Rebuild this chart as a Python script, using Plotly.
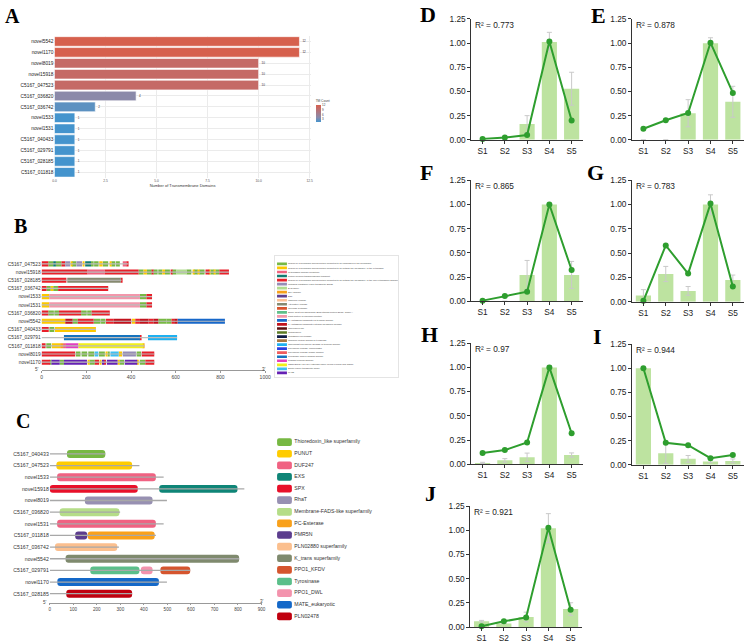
import plotly.graph_objects as go

W, H = 752, 643
FONT = "Liberation Sans, Arial, sans-serif"
SERIF = "Liberation Serif, Times New Roman, serif"

def fx(px): return px / W
def fy(py): return 1 - py / H
def xd(a, b): return [fx(a), fx(b)]
def yd(top, bottom): return [fy(bottom), fy(top)]

# ---------------- Panel A data ----------------
a_genes = ["novel5542", "novel1170", "novel8019", "novel15918", "C5167_047523", "C5167_036820",
           "C5167_036742", "novel1533", "novel1531", "C5167_040433", "C5167_029791",
           "C5167_028185", "C5167_011818"]
a_tm = [12, 12, 10, 10, 10, 4, 2, 1, 1, 1, 1, 1, 1]
a_ticks = [0, 2.5, 5, 7.5, 10, 12.5]
a_ticktext = ["0.0", "2.5", "5.0", "7.5", "10.0", "12.5"]
a_scale = [[0, "#4494cd"], [0.27, "#8b8aa9"], [0.82, "#c56a66"], [1, "#d6604d"]]

# ---------------- Panel B data ----------------
b_genes = ["C5167_047523", "novel15918", "C5167_028185", "C5167_036742", "novel1533", "novel1531",
           "C5167_036820", "novel5542", "C5167_040433", "C5167_029791", "C5167_011818",
           "novel8019", "novel1170"]
b_len = [389, 838, 358, 298, 494, 494, 305, 820, 243, 606, 460, 504, 504]
b_motif_names = [
    "Region of a membrane-bound protein predicted to be embedded in the membrane.",
    "Region of a membrane-bound protein predicted to be outside the membrane, in the cytoplasm.",
    "Cytoplasmic domain prediction",
    "Proton-coupled transmembrane transport",
    "Region of a membrane-bound protein predicted to be outside the membrane, in the non-cytoplasmic domain.",
    "Multidrug resistance efflux transporter EmrE",
    "EXS family",
    "SPX domain",
    "SCF",
    "Ubiquinol oxidase",
    "Alternative oxidase",
    "Cellulose synthase",
    "Spore Coat Polysaccharide Biosynthesis Protein SpsC, Chain A",
    "Plant protein of unknown function",
    "K+ potassium transporter N-terminal domain",
    "K+ potassium transporter integral membrane domain",
    "Thioredoxin-like",
    "Glutaredoxin",
    "Glutathione peroxidase",
    "Common central domain of tyrosinase",
    "Chloroplast Polyphenol Oxidase N-terminal domain",
    "Polyphenol oxidase, chloroplastic",
    "Polyphenol oxidase middle domain",
    "Tyrosinase copper-binding domain",
    "PMR5N terminal Domain",
    "GDSL/SGNH-like acyl-esterase family found in Pmr5 and Cas1p",
    "Solute carrier transporter family",
    "MATE",
]
b_motif_colors = ["#77b843", "#fcc800", "#f0637e", "#127c72", "#e8202a", "#968db6", "#b1dc8e",
                  "#f7a11a", "#5f3f8f", "#fcbf93", "#868a70", "#d8532b", "#5fbf8a", "#f297ab",
                  "#1767c9", "#c1121c", "#5a0e0e", "#5b7a23", "#0e1a45", "#a8753f", "#1eb0f0",
                  "#2b3ee0", "#ef5b5b", "#1673bd", "#e23fbf", "#f2ef1a", "#3ec0f2", "#6420b3"]

# motif segments per gene: (start, end, motif number)
seg_C5167_047523 = [(0, 30, 5), (30, 52, 1), (52, 64, 4), (64, 89, 1), (89, 106, 5), (106, 128, 6),
                    (130, 136, 2), (136, 155, 1), (156, 181, 6), (184, 190, 2), (195, 221, 4),
                    (221, 233, 1), (235, 255, 1), (258, 273, 2), (274, 298, 1), (307, 312, 2),
                    (312, 330, 1), (333, 350, 1), (363, 381, 3), (381, 389, 5)]
seg_novel15918 = [(0, 205, 5), (205, 282, 3), (282, 434, 5), (434, 456, 1), (456, 471, 2),
                  (471, 493, 1), (493, 500, 5), (500, 519, 1), (522, 540, 1), (540, 552, 2),
                  (552, 574, 1), (578, 584, 5), (584, 603, 1), (603, 648, 7), (648, 670, 1),
                  (677, 681, 2), (681, 699, 1), (699, 705, 2), (705, 729, 1), (733, 751, 5),
                  (751, 755, 2), (755, 773, 1), (773, 777, 2), (777, 795, 1), (795, 838, 5)]
seg_C5167_028185 = [(0, 111, 5), (115, 354, 11), (354, 358, 5)]
seg_C5167_036742 = [(0, 22, 5), (22, 41, 1), (41, 52, 2), (52, 74, 1), (74, 298, 5)]
seg_novel1533 = [(0, 34, 2), (34, 440, 14), (440, 469, 1), (469, 494, 5)]
seg_novel1531 = [(0, 34, 2), (34, 440, 14), (440, 469, 1), (469, 494, 5)]
seg_C5167_036820 = [(0, 30, 5), (30, 55, 1), (57, 78, 1), (78, 177, 5), (177, 202, 1),
                    (204, 224, 1), (224, 305, 5)]
seg_novel5542 = [(0, 106, 2), (106, 139, 16), (139, 162, 1), (162, 233, 5), (233, 264, 1),
                 (266, 286, 1), (288, 323, 5), (323, 401, 16), (404, 419, 2), (419, 440, 5),
                 (440, 478, 16), (478, 500, 5), (500, 522, 16), (522, 559, 1), (559, 581, 1),
                 (581, 593, 5), (593, 608, 16), (608, 820, 15)]
seg_C5167_040433 = [(0, 32, 5), (35, 57, 1), (60, 243, 2)]
seg_C5167_029791 = [(100, 440, 24), (440, 445, 5), (476, 606, 21)]
seg_C5167_011818 = [(0, 18, 5), (21, 43, 1), (46, 83, 2), (83, 96, 8), (96, 109, 3),
                    (109, 165, 25), (165, 456, 26), (456, 460, 8)]
seg_novel8019 = [(0, 150, 5), (153, 174, 1), (179, 204, 1), (209, 235, 1), (237, 254, 27),
                 (257, 283, 1), (286, 295, 2), (298, 305, 1), (308, 345, 27), (345, 360, 2),
                 (363, 422, 6), (425, 445, 1), (448, 504, 5)]
seg_novel1170 = [(0, 38, 5), (38, 44, 1), (44, 81, 28), (81, 100, 1), (100, 203, 28),
                 (206, 212, 2), (214, 238, 1), (238, 257, 5), (262, 268, 2), (270, 280, 28),
                 (280, 288, 5), (292, 340, 28), (342, 348, 2), (348, 369, 1), (372, 428, 28),
                 (428, 435, 2), (439, 464, 1), (464, 504, 5)]
b_segments = [seg_C5167_047523, seg_novel15918, seg_C5167_028185, seg_C5167_036742, seg_novel1533,
              seg_novel1531, seg_C5167_036820, seg_novel5542, seg_C5167_040433, seg_C5167_029791,
              seg_C5167_011818, seg_novel8019, seg_novel1170]

# ---------------- Panel C data ----------------
c_genes = ["C5167_040433", "C5167_047523", "novel1533", "novel15918", "novel8019", "C5167_036820",
           "novel1531", "C5167_011818", "C5167_036742", "novel5542", "C5167_029791", "novel1170",
           "C5167_028185"]
c_len = [236, 381, 484, 827, 498, 299, 484, 451, 294, 805, 597, 498, 350]
c_dom_names = ["Thioredoxin_like superfamily", "PUNUT", "DUF247", "EXS", "SPX", "RhaT",
               "Membrane-FADS-like superfamily", "PC-Esterase", "PMR5N", "PLN02880 superfamily",
               "K_trans superfamily", "PPO1_KFDV", "Tyrosinase", "PPO1_DWL", "MATE_eukaryotic",
               "PLN02478"]
c_dom_colors = ["#77b843", "#ffcc00", "#f06282", "#0f8577", "#e8102a", "#9790b2", "#b5dd88",
                "#f9a11b", "#5c3d8e", "#fbbf8e", "#7f8a6e", "#d5552e", "#5bbf8a", "#f393ad",
                "#1468c8", "#c0000f"]
c_dom_gene = ["C5167_040433", "C5167_047523", "novel1533", "novel15918", "novel15918", "novel8019",
              "C5167_036820", "novel1531", "C5167_011818", "C5167_011818", "C5167_036742",
              "novel5542", "C5167_029791", "C5167_029791", "C5167_029791", "novel1170",
              "C5167_028185"]
c_dom_start = [73, 28, 31, 0, 465, 149, 42, 31, 108, 161, 22, 67, 172, 387, 470, 32, 70]
c_dom_end = [236, 350, 451, 374, 798, 437, 296, 451, 159, 446, 287, 805, 381, 437, 597, 464, 350]
c_dom_type = ["Thioredoxin_like superfamily", "PUNUT", "DUF247", "SPX", "EXS", "RhaT",
              "Membrane-FADS-like superfamily", "DUF247", "PMR5N", "PC-Esterase",
              "PLN02880 superfamily", "K_trans superfamily", "Tyrosinase", "PPO1_DWL", "PPO1_KFDV",
              "MATE_eukaryotic", "PLN02478"]

# ---------------- Panels D-J data ----------------
stages = ["S1", "S2", "S3", "S4", "S5"]
y_ticks = [0, 0.25, 0.5, 0.75, 1.0, 1.25]
d_bar = [0, 0, 0.163, 1.01, 0.528]
d_err = [0, 0, 0.087, 0.1, 0.17]
d_line = [0.01, 0.024, 0.05, 1.016, 0.2]
e_bar = [0, 0, 0.275, 0.997, 0.393]
e_err = [0, 0, 0.14, 0.057, 0.16]
e_line = [0.115, 0.203, 0.278, 1.003, 0.485]
f_bar = [0, 0, 0.272, 1.0, 0.272]
f_err = [0, 0, 0.15, 0, 0.14]
f_line = [0.007, 0.054, 0.099, 1.0, 0.323]
g_bar = [0.065, 0.286, 0.112, 1.0, 0.225]
g_err = [0.06, 0.078, 0.045, 0.1, 0.05]
g_line = [0.01, 0.58, 0.29, 1.01, 0.157]
h_bar = [0.014, 0.04, 0.071, 1.0, 0.095]
h_err = [0.006, 0.018, 0.044, 0.02, 0.022]
h_line = [0.115, 0.146, 0.224, 1.0, 0.32]
i_bar = [1.0, 0.119, 0.061, 0.034, 0.04]
i_err = [0, 0.105, 0.035, 0.013, 0.02]
i_line = [1.0, 0.227, 0.203, 0.068, 0.10]
j_bar = [0.061, 0.037, 0.105, 1.022, 0.187]
j_err = [0.009, 0, 0.05, 0.15, 0.065]
j_line = [0.01, 0.06, 0.1, 1.026, 0.18]
r2_labels = ["R\u00b2 = 0.773", "R\u00b2 = 0.878", "R\u00b2 = 0.865", "R\u00b2 = 0.783",
             "R\u00b2 = 0.97", "R\u00b2 = 0.944", "R\u00b2 = 0.921"]

fig = go.Figure()
annotations = []
layout = dict(width=W, height=H, margin=dict(l=0, r=0, t=0, b=0), paper_bgcolor="white",
              plot_bgcolor="white", barmode="overlay", showlegend=False,
              font=dict(family=FONT, color="#222"))

# ---------------- Panel A ----------------
fig.add_trace(go.Bar(
    x=a_tm, y=a_genes, orientation="h", width=0.88, xaxis="x", yaxis="y",
    marker=dict(color=a_tm, colorscale=a_scale, cmin=1, cmax=12,
                line=dict(color="white", width=0.6),
                colorbar=dict(x=fx(317), xanchor="left", y=fy(106), yanchor="middle",
                              len=26, lenmode="pixels", thickness=5, thicknessmode="pixels",
                              xpad=0, ypad=0, outlinewidth=0, ticks="", tickvals=[3, 6, 9, 12],
                              tickfont=dict(size=3, color="#444"),
                              title=dict(text="TM Count", side="top", font=dict(size=3.2, color="#444")))),
    text=[str(v) for v in a_tm], textposition="outside", cliponaxis=False,
    textfont=dict(size=3, color="#333"), hoverinfo="skip"))
layout["xaxis"] = dict(domain=xd(53, 312), anchor="y", range=[0, 12.55], tickvals=a_ticks,
                       ticktext=a_ticktext, showgrid=True, gridcolor="#ebebeb", gridwidth=0.7,
                       zeroline=False, ticks="", tickfont=dict(size=3.3, color="#555"),
                       title=dict(text="Number of Transmembrane Domains", standoff=1,
                                  font=dict(size=4, color="#333")))
layout["yaxis"] = dict(domain=yd(31.5, 175.5), anchor="x", categoryorder="array",
                       categoryarray=a_genes, autorange="reversed", showgrid=True,
                       gridcolor="#ebebeb", gridwidth=0.7, ticks="",
                       tickfont=dict(size=4.8, color="#222"))

# ---------------- Panel B ----------------
lx, ly = [], []
for i, L in enumerate(b_len):
    lx += [0, L, None]
    ly += [i, i, None]
fig.add_trace(go.Scatter(x=lx, y=ly, mode="lines", line=dict(color="#bdbdbd", width=1.2),
                         xaxis="x2", yaxis="y2", hoverinfo="skip"))
for m in range(len(b_motif_names)):
    bx, bb, by = [], [], []
    for i, segs in enumerate(b_segments):
        for s, e, mm in segs:
            if mm == m + 1:
                bx.append(e - s); bb.append(s); by.append(i)
    if bx:
        fig.add_trace(go.Bar(x=bx, base=bb, y=by, orientation="h", width=0.62,
                             marker=dict(color=b_motif_colors[m], line=dict(width=0)),
                             xaxis="x2", yaxis="y2", hoverinfo="skip"))
layout["xaxis2"] = dict(domain=xd(40, 266), anchor="y2", range=[0, 1000],
                        tickvals=[0, 200, 400, 600, 800, 1000], showgrid=False, zeroline=False,
                        showline=True, linecolor="#999", linewidth=0.8, ticks="outside",
                        ticklen=2, tickcolor="#999", tickfont=dict(size=5, color="#444"))
layout["yaxis2"] = dict(domain=yd(258.8, 371), anchor="x2", range=[12.98, -0.5],
                        tickvals=list(range(len(b_genes))), ticktext=b_genes, ticks="",
                        showgrid=False, zeroline=False, tickfont=dict(size=4.8, color="#333"))
annotations.append(dict(x=fx(39), y=fy(370.5), xref="paper", yref="paper", text="5'",
                        showarrow=False, xanchor="right", yanchor="middle",
                        font=dict(size=4.5, color="#444")))
annotations.append(dict(x=fx(265), y=fy(370), xref="paper", yref="paper", text="3'",
                        showarrow=False, xanchor="center", yanchor="middle",
                        font=dict(size=4.5, color="#444")))

# B legend
nB = len(b_motif_names)
fig.add_trace(go.Bar(x=[10] * nB, base=[2] * nB, y=list(range(nB)), orientation="h", width=0.66,
                     marker=dict(color=b_motif_colors, line=dict(width=0)),
                     xaxis="x3", yaxis="y3", hoverinfo="skip"))
fig.add_trace(go.Scatter(x=[13] * nB, y=list(range(nB)), mode="text", text=b_motif_names,
                         textposition="middle right", textfont=dict(size=2.3, color="#444"),
                         xaxis="x3", yaxis="y3", hoverinfo="skip", cliponaxis=False))
layout["xaxis3"] = dict(domain=xd(276, 400), anchor="y3", range=[0, 124], showgrid=False,
                        zeroline=False, showticklabels=False, ticks="", showline=True,
                        mirror=True, linecolor="#e4e4e4", linewidth=0.8)
layout["yaxis3"] = dict(domain=yd(255, 378), anchor="x3", range=[28.05, -1.95], showgrid=False,
                        zeroline=False, showticklabels=False, ticks="", showline=True,
                        mirror=True, linecolor="#e4e4e4", linewidth=0.8)

# ---------------- Panel C ----------------
lx, ly = [], []
for i, L in enumerate(c_len):
    lx += [0, L, None]
    ly += [i, i, None]
fig.add_trace(go.Scatter(x=lx, y=ly, mode="lines", line=dict(color="#a8a8a8", width=1.3),
                         xaxis="x4", yaxis="y4", hoverinfo="skip"))
for k, name in enumerate(c_dom_names):
    bx, bb, by = [], [], []
    for g, s, e, t in zip(c_dom_gene, c_dom_start, c_dom_end, c_dom_type):
        if t == name:
            bx.append(e - s); bb.append(s); by.append(c_genes.index(g))
    fig.add_trace(go.Bar(x=bx, base=bb, y=by, orientation="h", width=0.68,
                         marker=dict(color=c_dom_colors[k], cornerradius=3, line=dict(width=0)),
                         xaxis="x4", yaxis="y4", hoverinfo="skip"))
layout["xaxis4"] = dict(domain=xd(48.3, 262.3), anchor="y4", range=[0, 900],
                        tickvals=list(range(0, 901, 100)), showgrid=False, zeroline=False,
                        showline=True, linecolor="#999", linewidth=0.8, ticks="outside",
                        ticklen=2, tickcolor="#999", tickfont=dict(size=4.6, color="#444"))
layout["yaxis4"] = dict(domain=yd(450.1, 607), anchor="x4", range=[12.76, -0.5],
                        tickvals=list(range(len(c_genes))), ticktext=c_genes, ticks="",
                        showgrid=False, zeroline=False, tickfont=dict(size=5.2, color="#333"))
annotations.append(dict(x=fx(47.5), y=fy(606.5), xref="paper", yref="paper", text="5'",
                        showarrow=False, xanchor="right", yanchor="middle",
                        font=dict(size=4.5, color="#444")))
annotations.append(dict(x=fx(262.5), y=fy(606), xref="paper", yref="paper", text="3'",
                        showarrow=False, xanchor="center", yanchor="middle",
                        font=dict(size=4.5, color="#444")))

# C legend
nC = len(c_dom_names)
fig.add_trace(go.Bar(x=[15] * nC, base=[0] * nC, y=list(range(nC)), orientation="h", width=0.66,
                     marker=dict(color=c_dom_colors, cornerradius=2, line=dict(width=0)),
                     xaxis="x5", yaxis="y5", hoverinfo="skip"))
fig.add_trace(go.Scatter(x=[17.5] * nC, y=list(range(nC)), mode="text", text=c_dom_names,
                         textposition="middle right", textfont=dict(size=5.2, color="#333"),
                         xaxis="x5", yaxis="y5", hoverinfo="skip", cliponaxis=False))
layout["xaxis5"] = dict(domain=xd(278, 378), anchor="y5", range=[0, 100], visible=False)
layout["yaxis5"] = dict(domain=yd(438.1, 626.9), anchor="x5", range=[15.5, -0.5], visible=False)

# ---------------- Panels D-J ----------------
mini = [
    (d_bar, d_err, d_line, (474.5, 587), (14, 137)),
    (e_bar, e_err, e_line, (637, 750), (14, 137)),
    (f_bar, f_err, f_line, (474.5, 587), (178, 301)),
    (g_bar, g_err, g_line, (637, 750), (178, 301.5)),
    (h_bar, h_err, h_line, (474.5, 587), (343.5, 466.5)),
    (i_bar, i_err, i_line, (637, 750), (344.5, 467)),
    (j_bar, j_err, j_line, (473.5, 586), (509, 632)),
]
for n, (bars, errs, line, xdm, ydm) in enumerate(mini):
    ax = n + 6
    xa, ya = f"x{ax}", f"y{ax}"
    fig.add_trace(go.Bar(x=stages, y=bars, width=0.68, marker=dict(color="#bde3a0", line=dict(width=0)),
                         error_y=dict(type="data", array=errs, visible=True, color="#c9c9c9",
                                      thickness=1, width=2.5),
                         xaxis=xa, yaxis=ya, hoverinfo="skip"))
    fig.add_trace(go.Scatter(x=stages, y=line, mode="lines+markers",
                             line=dict(color="#2e9e2e", width=2),
                             marker=dict(color="#2e9e2e", size=6),
                             xaxis=xa, yaxis=ya, hoverinfo="skip", cliponaxis=False))
    layout[f"xaxis{ax}"] = dict(domain=xd(*xdm), anchor=ya, range=[-0.5, 4.5], showgrid=False,
                                zeroline=False, showline=True, linecolor="#333", linewidth=1.2,
                                ticks="outside", ticklen=3, tickcolor="#333",
                                tickfont=dict(size=8.3, color="#222"))
    layout[f"yaxis{ax}"] = dict(domain=yd(*ydm), anchor=xa, range=[0, 1.25], tickvals=y_ticks,
                                tickformat=".2f", showgrid=False, zeroline=False, showline=True,
                                linecolor="#333", linewidth=1.2, ticks="outside", ticklen=3,
                                tickcolor="#333", tickfont=dict(size=8.3, color="#222"))
    annotations.append(dict(x=-0.42, y=1.19, xref=xa, yref=ya, text=r2_labels[n], showarrow=False,
                            xanchor="left", yanchor="middle", font=dict(size=8.3, color="#222")))

# ---------------- Panel letters ----------------
letters = [("A", 1, 11, 20), ("B", 10, 224, 20), ("C", 12, 423, 20), ("D", 420, 10, 22),
           ("E", 593, 11, 22), ("F", 420, 170, 22), ("G", 589, 170, 22), ("H", 421, 335, 22),
           ("I", 595, 337, 22), ("J", 426, 496, 22)]
for t, x, y, s in letters:
    annotations.append(dict(x=fx(x), y=fy(y), xref="paper", yref="paper", text=f"<b>{t}</b>",
                            showarrow=False, xanchor="left", yanchor="middle",
                            font=dict(family=SERIF, size=s, color="#000")))

layout["annotations"] = annotations
fig.update_layout(**layout)
fig.write_html("out.html")
